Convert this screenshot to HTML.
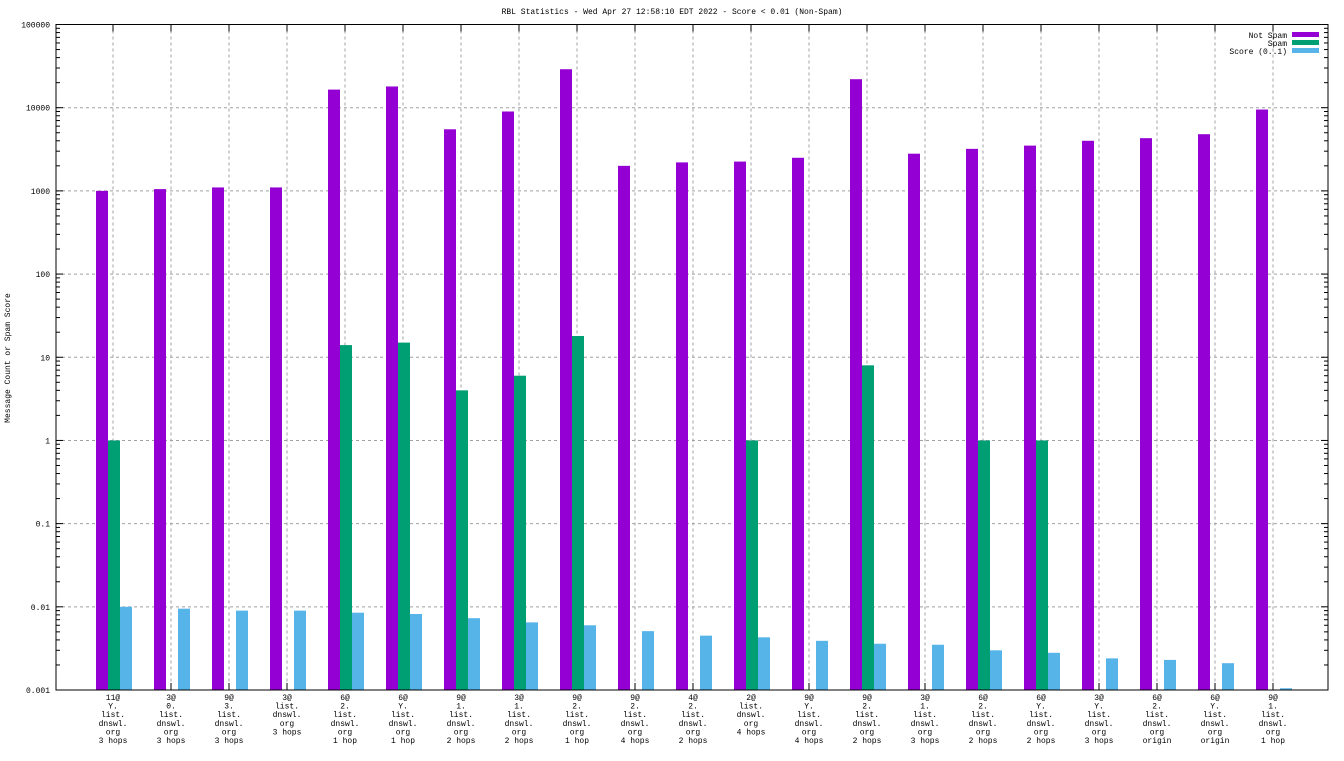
<!DOCTYPE html>
<html><head><meta charset="utf-8"><style>
body{margin:0;background:#fff;}
svg text{font-family:"Liberation Mono",monospace;font-size:8px;fill:#000;}
</style></head><body>
<svg id="chart" width="1344" height="756" xmlns="http://www.w3.org/2000/svg"></svg>
<script>
const categories=[
["11@","Y.","list.","dnswl.","org","3 hops"],["3@","0.","list.","dnswl.","org","3 hops"],["9@","3.","list.","dnswl.","org","3 hops"],["3@","list.","dnswl.","org","3 hops"],
["6@","2.","list.","dnswl.","org","1 hop"],["6@","Y.","list.","dnswl.","org","1 hop"],["9@","1.","list.","dnswl.","org","2 hops"],["3@","1.","list.","dnswl.","org","2 hops"],
["9@","2.","list.","dnswl.","org","1 hop"],["9@","2.","list.","dnswl.","org","4 hops"],["4@","2.","list.","dnswl.","org","2 hops"],["2@","list.","dnswl.","org","4 hops"],
["9@","Y.","list.","dnswl.","org","4 hops"],["9@","2.","list.","dnswl.","org","2 hops"],["3@","1.","list.","dnswl.","org","3 hops"],["6@","2.","list.","dnswl.","org","2 hops"],
["6@","Y.","list.","dnswl.","org","2 hops"],["3@","Y.","list.","dnswl.","org","3 hops"],["6@","2.","list.","dnswl.","org","origin"],["6@","Y.","list.","dnswl.","org","origin"],["9@","1.","list.","dnswl.","org","1 hop"]];
const notSpam=[1000,1050,1100,1100,16500,18000,5500,9000,29000,2000,2200,2250,2500,22000,2800,3200,3500,4000,4300,4800,9500];
const spam=[1,0,0,0,14,15,4,6,18,0,0,1,0,8,0,1,1,0,0,0,0];
const score=[0.01,0.0095,0.009,0.009,0.0085,0.0082,0.0073,0.0065,0.006,0.0051,0.0045,0.0043,0.0039,0.0036,0.0035,0.003,0.0028,0.0024,0.0023,0.0021,0.00105];
const yTicks=[0.001,0.01,0.1,1,10,100,1000,10000,100000];
const yLabels=["0.001","0.01","0.1","1","10","100","1000","10000","100000"];
const seriesNames=["Not Spam","Spam","Score (0..1)"];
const colors=["#9400d3","#009e73","#56b4e9"];

const svg=document.getElementById('chart');const NS="http://www.w3.org/2000/svg";
const L=56,R=1328,T=24.5,B=690;
function y(v){return B-(Math.log10(v)+3)/8*(B-T);}
function x(i){return 113+i*58;}
function mk(tag,attrs,parent){const e=document.createElementNS(NS,tag);for(const k in attrs)e.setAttribute(k,attrs[k]);(parent||svg).appendChild(e);return e;}
yTicks.forEach((v,i)=>{
 if(i>0&&i<yTicks.length-1){const g=mk('line',{x1:L,x2:R,y1:y(v),y2:y(v),stroke:'#a0a0a0','stroke-dasharray':'3,3'});
 
 }
 const t=mk('text',{x:L-6,y:y(v)+3,'text-anchor':'end'});t.textContent=yLabels[i];
 
 
 mk('line',{x1:L,x2:L+7,y1:y(v),y2:y(v),stroke:'#000'});mk('line',{x1:R,x2:R-7,y1:y(v),y2:y(v),stroke:'#000'});
 if(i<yTicks.length-1)for(let m=2;m<10;m++){const yy=y(v*m);mk('line',{x1:L,x2:L+4,y1:yy,y2:yy,stroke:'#000'});mk('line',{x1:R,x2:R-4,y1:yy,y2:yy,stroke:'#000'});}
});
categories.forEach((c,i)=>{
 const g=mk('line',{x1:x(i),x2:x(i),y1:T,y2:B,stroke:'#a0a0a0','stroke-dasharray':'3,3'});
 
 
 mk('line',{x1:x(i),x2:x(i),y1:B,y2:B-7,stroke:'#000'});mk('line',{x1:x(i),x2:x(i),y1:T,y2:T+7,stroke:'#000'});
 const t=mk('text',{x:x(i),y:B+10,'text-anchor':'middle'});
 
 
 c.forEach((s,k)=>{const ts=mk('tspan',{x:x(i),dy:k?8.6:0},t);ts.textContent=s;});
});
const series=[notSpam,spam,score];
series.forEach((arr,si)=>{arr.forEach((v,i)=>{if(v<=0)return;
 const bx=x(i)-17+si*12;const r=mk('rect',{x:bx,y:y(v),width:12,height:B-y(v),fill:colors[si]});
 
 });});
mk('rect',{x:L,y:T,width:R-L,height:B-T,fill:'none',stroke:'#000'});
const tt=mk('text',{x:672,y:14,'text-anchor':'middle'});tt.textContent="RBL Statistics - Wed Apr 27 12:58:10 EDT 2022 - Score < 0.01 (Non-Spam)";


const yt=mk('text',{x:10,y:358,'text-anchor':'middle',transform:'rotate(-90 10 358)'});yt.textContent="Message Count or Spam Score";


seriesNames.forEach((n,i)=>{
 const t=mk('text',{x:1287,y:38+i*8,'text-anchor':'end'});t.textContent=n;
 
 
 mk('rect',{x:1292,y:32+i*8,width:27,height:5,fill:colors[i]});
});
</script>
</body></html>
